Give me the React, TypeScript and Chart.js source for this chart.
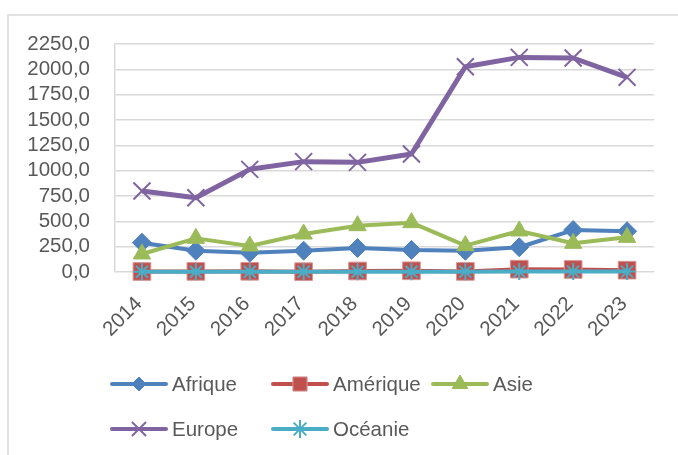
import React, { useEffect, useRef } from "react";
import { Chart, registerables } from "chart.js";
import { drawPoint } from "chart.js/helpers";

Chart.register(...registerables);

const years = ["2014", "2015", "2016", "2017", "2018", "2019", "2020", "2021", "2022", "2023"];
const afrique = [289, 210, 191, 210, 237, 217, 210, 244, 414, 402];
const amerique = [5, 6, 7, 3, 10, 12, 6, 28, 25, 18];
const asie = [178, 332, 257, 375, 457, 487, 260, 405, 283, 342];
const europe = [799, 733, 1013, 1089, 1082, 1164, 2026, 2118, 2112, 1921];
const oceanie = [2, 3, 3, 2, 3, 3, 2, 4, 4, 4];
const yMin = 0;
const yMax = 2250;
const yStep = 250;

const FONT = "'Liberation Sans', Arial, sans-serif";
const TEXT = "#595959";
const GRID = "#d9d9d9";

const legendSlots = [
  { x: 112, y: 384, r: 7 },
  { x: 273, y: 384, r: 10 },
  { x: 433, y: 384, r: 9 },
  { x: 112, y: 429, r: 10 },
  { x: 273, y: 429, r: 9 },
];

const framePlugin = {
  id: "frame",
  beforeDraw(chart: any) {
    const ctx = chart.ctx;
    ctx.save();
    ctx.strokeStyle = GRID;
    ctx.lineWidth = 1.5;
    ctx.beginPath();
    ctx.moveTo(8, 455);
    ctx.lineTo(8, 15);
    ctx.lineTo(678, 15);
    ctx.stroke();
    ctx.restore();
  },
};

const legendPlugin = {
  id: "customLegend",
  afterDraw(chart: any) {
    const ctx = chart.ctx;
    ctx.save();
    chart.data.datasets.forEach((ds: any, i: number) => {
      const s = legendSlots[i];
      if (!s) return;
      ctx.strokeStyle = ds.borderColor;
      ctx.lineWidth = 4;
      ctx.lineCap = "round";
      ctx.beginPath();
      ctx.moveTo(s.x, s.y);
      ctx.lineTo(s.x + 54, s.y);
      ctx.stroke();
      ctx.fillStyle = ds.pointBackgroundColor;
      ctx.strokeStyle = ds.pointBorderColor;
      ctx.lineWidth = ds.pointBorderWidth;
      ctx.lineCap = "butt";
      drawPoint(ctx, { pointStyle: ds.pointStyle, radius: s.r, rotation: 0, borderWidth: ds.pointBorderWidth }, s.x + 27, s.y);
      ctx.fillStyle = TEXT;
      ctx.font = `20.5px ${FONT}`;
      ctx.textBaseline = "middle";
      ctx.textAlign = "left";
      ctx.fillText(ds.label, s.x + 60, s.y + 1);
    });
    ctx.restore();
  },
};

export default function App() {
  const ref = useRef<HTMLCanvasElement | null>(null);
  useEffect(() => {
    if (!ref.current) return;
    const common = { clip: false as const, borderJoinStyle: "round" as const };
    const chart = new Chart(ref.current, {
      type: "line",
      data: {
        labels: years,
        datasets: [
          {
            ...common,
            label: "Afrique",
            data: afrique,
            borderColor: "#4f81bd",
            backgroundColor: "#4f81bd",
            pointBackgroundColor: "#4f81bd",
            pointBorderColor: "#4f81bd",
            pointBorderWidth: 1,
            pointStyle: "rectRot",
            pointRadius: 9.5,
            borderWidth: 4,
            order: 5,
          },
          {
            ...common,
            label: "Amérique",
            data: amerique,
            borderColor: "#c0504d",
            backgroundColor: "#c0504d",
            pointBackgroundColor: "#c0504d",
            pointBorderColor: "#d99694",
            pointBorderWidth: 1,
            pointStyle: "rect",
            pointRadius: 12.5,
            borderWidth: 4,
            order: 4,
          },
          {
            ...common,
            label: "Asie",
            data: asie,
            borderColor: "#9bbb59",
            backgroundColor: "#9bbb59",
            pointBackgroundColor: "#9bbb59",
            pointBorderColor: "#9bbb59",
            pointBorderWidth: 1,
            pointStyle: "triangle",
            pointRadius: 10,
            borderWidth: 4,
            order: 3,
          },
          {
            ...common,
            label: "Europe",
            data: europe,
            borderColor: "#8064a2",
            backgroundColor: "#8064a2",
            pointBackgroundColor: "#8064a2",
            pointBorderColor: "#8064a2",
            pointBorderWidth: 2,
            pointStyle: "crossRot",
            pointRadius: 12,
            borderWidth: 5,
            order: 2,
          },
          {
            ...common,
            label: "Océanie",
            data: oceanie,
            borderColor: "#4bacc6",
            backgroundColor: "#4bacc6",
            pointBackgroundColor: "#4bacc6",
            pointBorderColor: "#4bacc6",
            pointBorderWidth: 2,
            pointStyle: "star",
            pointRadius: 8.5,
            borderWidth: 4,
            order: 1,
          },
        ],
      },
      options: {
        animation: false,
        responsive: false,
        events: [],
        layout: { padding: { top: 44, right: 24, left: 0, bottom: 0 } },
        plugins: { legend: { display: false }, tooltip: { enabled: false } },
        elements: { line: { tension: 0 } },
        scales: {
          x: {
            offset: true,
            grid: { display: false, drawTicks: false },
            border: { display: false },
            ticks: {
              color: TEXT,
              font: { family: FONT, size: 20.5 },
              minRotation: 45,
              maxRotation: 45,
              padding: 20,
              labelOffset: -3,
              autoSkip: false,
            },
            afterFit(scale: any) {
              scale.height = 183;
            },
          },
          y: {
            min: yMin,
            max: yMax,
            grid: { color: GRID, lineWidth: 1.5, drawTicks: false },
            border: { display: true, color: GRID, width: 1.5 },
            ticks: {
              stepSize: yStep,
              autoSkip: false,
              color: TEXT,
              font: { family: FONT, size: 20.5 },
              padding: 25,
              callback: (v: any) => Number(v).toFixed(1).replace(".", ","),
            },
            afterFit(scale: any) {
              scale.width = 115;
            },
          },
        },
      },
      plugins: [framePlugin, legendPlugin],
    });
    return () => chart.destroy();
  }, []);
  return (
    <div style={{ position: "fixed", left: 0, top: 0, width: 678, height: 455, background: "#fff" }}>
      <canvas ref={ref} width={678} height={455} style={{ width: 678, height: 455, display: "block" }} />
    </div>
  );
}
